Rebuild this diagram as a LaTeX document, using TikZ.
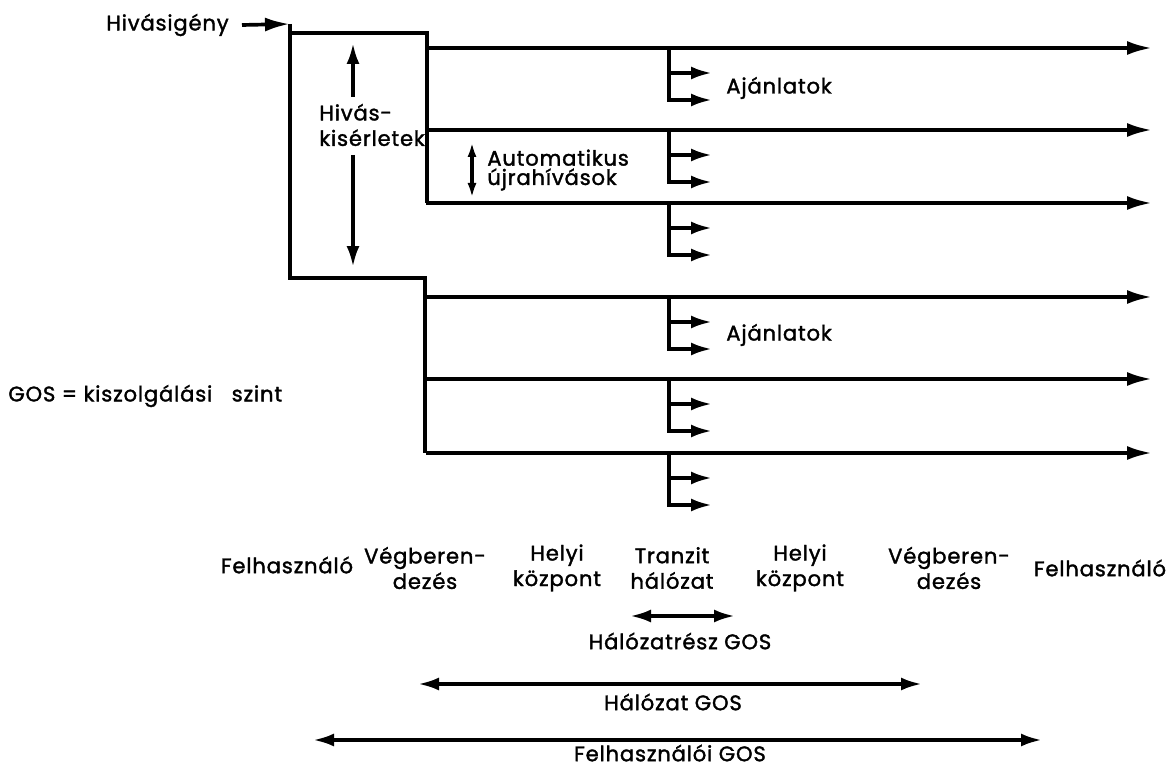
\documentclass[tikz,border=0pt]{standalone}
\usepackage{fontspec}
\newfontfamily\gsfont[LetterSpace=4.0, FakeBold=1.6]{Poppins}
\usetikzlibrary{arrows.meta,positioning,calc}
\tikzset{
  gsline/.style={line width=2.1pt, line join=miter},
  gsarrow/.style={gsline, -{Latex[length=5mm,width=2.8mm]}},
  gsbranch/.style={gsline, -{Latex[length=4.2mm,width=2.6mm]}},
  gsdarrow/.style={gsline, {Latex[length=4.2mm,width=2.6mm]}-{Latex[length=4.2mm,width=2.6mm]}},
  gstext/.style={font=\gsfont\fontsize{12}{14.5}\selectfont, inner sep=0pt, align=center},
}

\begin{document}
\begin{tikzpicture}[x=0.02cm, y=-0.02cm]
  \useasboundingbox (0,0) rectangle (1169,766);

  % call demand and the attempt tree
  \node[gstext, anchor=east] (demand) at (229,25) {Hivásigény};
  \coordinate (in) at (290,24);
  \draw[gsarrow] ([xshift=0.26cm]demand.east) -- (in);
  \draw[gsline] (in) -- (290,278) -- (425,278) -- (425,453);
  \draw[gsline] (290,33) -- (427,33) -- (427,203);

  \foreach \y [count=\i] in {48,130,203,297,379,453} {
    \coordinate (s\i) at (426,\y);
    \coordinate (e\i) at (1152,\y);
    \draw[gsarrow] (s\i) -- (e\i);
    % offers at the transit point
    \coordinate (b\i) at (669,\y);
    \draw[gsbranch] (b\i) |- (712,\y+52);
    \draw[gsbranch] (669,\y+25) -- (712,\y+25);
  }

  \node[gstext, anchor=west, align=left] (tries) at (319,125) {Hivás-\\kisérletek};
  \coordinate (tu) at (353,43);
  \coordinate (td) at (353,267);
  \draw[gsbranch] (353,97) -- (tu);
  \draw[gsbranch] (353,155) -- (td);

  \node[gstext, anchor=west, align=left, font=\gsfont\fontsize{12}{11}\selectfont]
    (auto) at (487,170) {Automatikus\\újrahívások};
  \coordinate (au) at (472,142);
  \coordinate (ad) at (472,198);
  \draw[gsline, {Latex[length=3mm,width=1.8mm]}-{Latex[length=3mm,width=1.8mm]}] (au) -- (ad);

  \node[gstext, anchor=west] (offer1) at (726,88) {Ajánlatok};
  \node[gstext, anchor=west] (offer2) at (726,335) {Ajánlatok};

  \node[gstext, anchor=west] (gos) at (8,396) {GOS = kiszolgálási~~~szint};

  % sections of the connection
  \node[gstext] (user1) at (287,565) {Felhasználó};
  \node[gstext] (term1) at (425,568) {Végberen-\\dezés};
  \node[gstext] (loc1) at (557,568) {Helyi\\központ};
  \node[gstext] (trans) at (672,568) {Tranzit\\hálózat};
  \node[gstext] (loc2) at (800,568) {Helyi\\központ};
  \node[gstext] (term2) at (949,568) {Végberen-\\dezés};
  \node[gstext] (user2) at (1100,568) {Felhasználó};

  % GOS ranges
  \coordinate (ps) at (630,616);
  \coordinate (pe) at (735,616);
  \draw[gsdarrow] (ps) -- (pe);
  \node[gstext] (partgos) at (680,641) {Hálózatrész GOS};
  \coordinate (ns) at (418,684);
  \coordinate (ne) at (922,684);
  \draw[gsdarrow] (ns) -- (ne);
  \node[gstext] (netgos) at (673,702) {Hálózat GOS};
  \coordinate (us) at (313,740);
  \coordinate (ue) at (1042,740);
  \draw[gsdarrow] (us) -- (ue);
  \node[gstext] (usergos) at (670,753) {Felhasználói GOS};
\end{tikzpicture}
\end{document}
